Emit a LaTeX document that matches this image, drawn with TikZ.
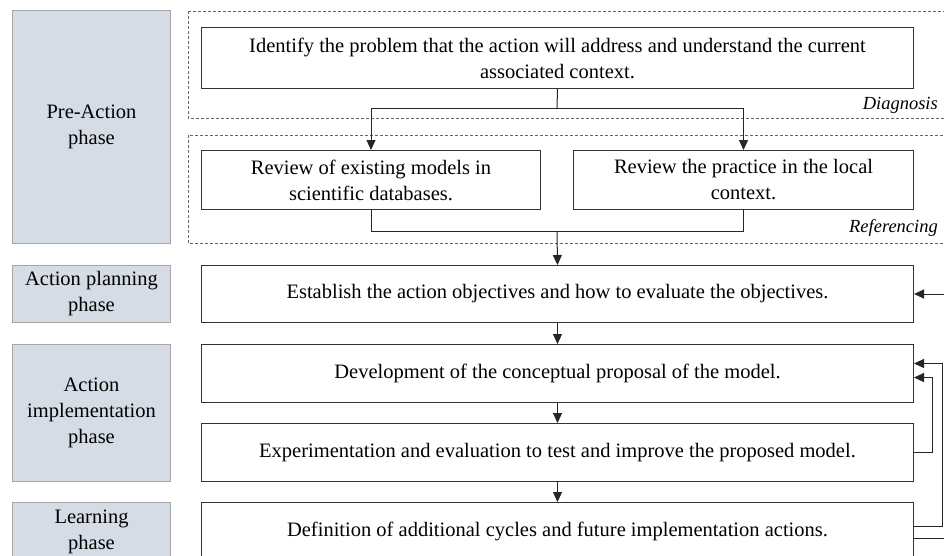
\documentclass[tikz,border=0pt]{standalone}
\usepackage{fontspec}
\setmainfont{Liberation Serif}
\usepackage{xcolor}
\usetikzlibrary{arrows.meta, positioning}
\definecolor{phasefill}{HTML}{D6DCE5}

\begin{document}
\begin{tikzpicture}[
    x=1pt, y=-1pt,
    every node/.style={font=\fontsize{20.5}{26}\selectfont},
    block/.style={rectangle, draw=black!80, line width=1pt, fill=white, inner sep=0pt, align=center, anchor=north west, minimum width=712pt},
    phase/.style={rectangle, draw=black!35, line width=1pt, fill=phasefill, inner sep=0pt, align=center, anchor=north west, minimum width=158pt},
    zone/.style={draw=black!60, line width=0.9pt, dash pattern=on 3pt off 2pt},
    tag/.style={font=\fontsize{18.5}{22}\selectfont\itshape, anchor=east, inner sep=0pt},
    arr/.style={-{Triangle[length=10pt, width=9pt]}, line width=1pt, black!85},
    link/.style={line width=1pt, black!85},
]
    \useasboundingbox (0,0) rectangle (944,555);
    \clip (0,0) rectangle (944,555);

    % phases
    \node[phase, minimum height=233pt] (prephase) at (12,10) {Pre-Action\\phase};
    \node[phase, minimum height=57pt] (planphase) at (12,265) {Action planning\\phase};
    \node[phase, minimum height=137pt] (implphase) at (12,344) {Action\\implementation\\phase};
    \node[phase, minimum height=58pt] (learnphase) at (12,502) {Learning\\phase};

    % dashed zones
    \draw[zone] (188,11) rectangle (950,118);
    \draw[zone] (188,135) rectangle (950,243);
    \node[tag] (diagtag) at (938,105) {Diagnosis};
    \node[tag] (reftag) at (938,228) {Referencing};

    % steps
    \node[block, minimum height=61pt] (identify) at (201,27) {Identify the problem that the action will address and understand the current\\associated context.};
    \node[block, minimum width=339pt, minimum height=59pt] (revmodels) at (201,150) {Review of existing models in\\scientific databases.};
    \node[block, minimum width=340pt, minimum height=59pt] (revlocal) at (573,150) {Review the practice in the local\\context.};
    \node[block, minimum height=57pt] (establish) at (201,265) {Establish the action objectives and how to evaluate the objectives.};
    \node[block, minimum height=58pt] (develop) at (201,344) {Development of the conceptual proposal of the model.};
    \node[block, minimum height=58pt] (experiment) at (201,423) {Experimentation and evaluation to test and improve the proposed model.};
    \node[block, minimum height=58pt] (define) at (201,502) {Definition of additional cycles and future implementation actions.};

    \coordinate (split) at (557,108);
    \coordinate (merge) at (557,231);
    \draw[link] (identify.south) -- (split);
    \draw[arr] (split) -| (revmodels.north);
    \draw[arr] (split) -| (revlocal.north);
    \draw[link] (revmodels.south) |- (merge);
    \draw[link] (revlocal.south) |- (merge);
    \draw[arr] (merge) -- (establish.north);
    \draw[arr] (establish) -- (develop);
    \draw[arr] (develop) -- (experiment);
    \draw[arr] (experiment) -- (define);

    % feedback loops
    \draw[arr] (experiment.east) -- ++(18,0) |- ([yshift=-4pt]develop.east);
    \draw[arr] ([yshift=5pt]define.east) -- ++(28,0) |- ([yshift=10pt]develop.east);
    \draw[arr] ([yshift=-7pt]define.east) -- ++(45,0) |- (establish.east);
\end{tikzpicture}
\end{document}
